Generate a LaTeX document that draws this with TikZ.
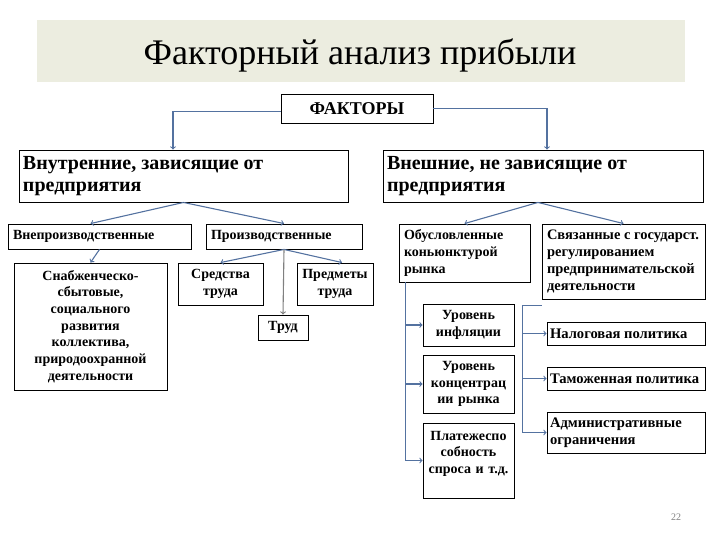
\documentclass[tikz,border=0pt]{standalone}
\usepackage{fontspec}
\setmainfont{Liberation Serif}
\definecolor{linkblue}{RGB}{84,114,160}
\definecolor{titlebg}{RGB}{236,237,224}
\tikzset{
  box/.style={draw, line width=0.9pt, inner sep=3pt, font=\bfseries\fontsize{14}{16.7}\selectfont},
  bigbox/.style={box, align=flush left, inner sep=3pt, font=\bfseries\fontsize{14.6}{17}\selectfont},
  head/.style={box, align=flush left, inner sep=4pt, font=\bfseries\fontsize{20}{22}\selectfont},
  conn/.style={->, draw=linkblue, line width=1.1pt},
}
\begin{document}
\begin{tikzpicture}[x=1pt, y=-1pt]
    \useasboundingbox (0,0) rectangle (720,540);

    % Title band
    \node[fill=titlebg, minimum width=648, minimum height=62] (band) at (361,51) {};
    \node[font=\fontsize{36}{40}\selectfont] (title) at (360,55) {Факторный анализ прибыли};

    % Top level
    \node[box, minimum width=152, minimum height=29, font=\bfseries\fontsize{18}{20}\selectfont] (faktory) at (357,108.5) {ФАКТОРЫ};
    \node[head, text width=321, minimum height=52] (vnutr) at (183.5,176) {Внутренние, зависящие от\\предприятия};
    \node[head, text width=312, minimum height=52] (vnesh) at (543,176) {Внешние, не зависящие от\\предприятия};

    % Internal factors
    \node[box, text width=173, inner sep=5pt, minimum height=25, align=flush left] (vnepr) at (99.5,236.5) {Внепроизводственные};
    \node[box, text width=146, inner sep=5pt, minimum height=25, align=flush left] (proizv) at (284,236.5) {Производственные};
    \node[box, text width=147, minimum height=127, align=center] (snab) at (90.5,326.5)
        {Снабженческо-\\сбытовые,\\социального\\развития\\коллектива,\\природоохранной\\деятельности};
    \node[box, text width=79, minimum height=42, align=center] (sredstva) at (220.5,284) {Средства\\труда};
    \node[box, text width=70, minimum height=42, align=center] (predmety) at (335,284) {Предметы\\труда};
    \node[box, text width=44, minimum height=25, align=center] (trud) at (283,327.5) {Труд};

    % External factors
    \node[box, text width=121, inner sep=5pt, minimum height=58, align=flush left] (obusl) at (464.5,253) {Обусловленные\\коньюнктурой\\рынка};
    \node[box, text width=153, inner sep=5pt, minimum height=75, align=flush left, font=\bfseries\fontsize{14.5}{16.7}\selectfont] (svyaz) at (623.5,261.5)
        {Связанные с государст.\\регулированием\\предпринимательской\\деятельности};
    \node[box, text width=85, minimum height=42, align=center] (infl) at (468.5,325) {Уровень\\инфляции};
    \node[box, text width=85, minimum height=58, align=center] (konc) at (468.5,384) {Уровень\\концентрац\\ии рынка};
    \node[box, text width=85, minimum height=75, align=center] (plat) at (468.5,460.5) {Платежеспо\\собность\\спроса и т.д.\\~};
    \node[bigbox, text width=152, minimum height=23] (nalog) at (626,333.5) {Налоговая политика};
    \node[bigbox, text width=152, minimum height=23] (tamozh) at (626,378.5) {Таможенная политика};
    \node[bigbox, text width=152, minimum height=41] (admin) at (626,432.5) {Административные\\ограничения};

    % Page number
    \node[text=gray, font=\fontsize{10}{12}\selectfont] (pnum) at (676,517) {22};

    % Connectors
    \draw[conn] ([yshift=-3]faktory.west) -| ([xshift=-10.5]vnutr.north);
    \draw[conn] (faktory.east) -| ([xshift=4]vnesh.north);
    \draw[conn] (vnutr.south) -- ([xshift=-9]vnepr.north);
    \draw[conn] (vnutr.south) -- (proizv.north);
    \draw[conn] (vnepr.south) -- (snab.north);
    \draw[conn] (proizv.south) -- (sredstva.north);
    \draw[conn] (proizv.south) -- ([xshift=7]predmety.north);
    \draw[conn, draw=gray] (proizv.south) -- (trud.north);
    \draw[conn] ([xshift=-5]vnesh.south) -- (obusl.north);
    \draw[conn] ([xshift=-5]vnesh.south) -- (svyaz.north);
    \draw[conn] ([xshift=7]obusl.south west) |- (infl.west);
    \draw[conn] ([xshift=7]obusl.south west) |- (konc.west);
    \draw[conn] ([xshift=7]obusl.south west) |- (plat.west);
    \draw[conn] ([yshift=-6]svyaz.south west) -- ++(-19,0) |- (nalog.west);
    \draw[conn] ([yshift=-6]svyaz.south west) -- ++(-19,0) |- (tamozh.west);
    \draw[conn] ([yshift=-6]svyaz.south west) -- ++(-19,0) |- (admin.west);
\end{tikzpicture}
\end{document}
